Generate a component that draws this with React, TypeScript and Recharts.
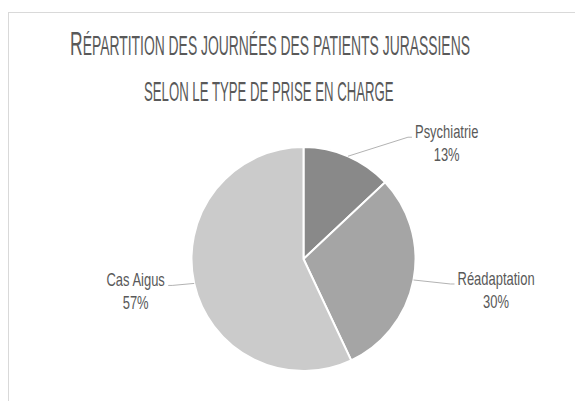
import React from "react";
import { PieChart, Pie, Cell } from "recharts";

// ---- data ----
const categories = ["Psychiatrie", "Réadaptation", "Cas Aigus"];
const values = [13, 30, 57];
const titleLine1First = "R";
const titleLine1Rest = "ÉPARTITION DES JOURNÉES DES PATIENTS JURASSIENS";
const titleLine2 = "SELON LE TYPE DE PRISE EN CHARGE";

// ---- styles ----
const COLORS = ["#898989", "#a5a5a5", "#cbcbcb"];
const LABEL_OFFSETS: [number, number][] = [
  [64, -19],
  [41, 4],
  [-26, 2],
];
const FONT = '"Liberation Sans", Arial, sans-serif';
const TEXT_COLOR = "#595959";
const LABEL_SIZE = 18;
const SCALE_X = 0.72;
const GAP = 3;
const TITLE_BIG = 34;
const TITLE_SMALL = 27;

const data = categories.map((name, i) => ({ name, value: values[i] }));

let ctx: CanvasRenderingContext2D | null = null;
function measure(s: string, size: number): number {
  if (!ctx) ctx = document.createElement("canvas").getContext("2d");
  if (!ctx) return s.length * size * 0.6;
  ctx.font = `${size}px "Liberation Sans", Arial, sans-serif`;
  return ctx.measureText(s).width;
}
function textWidth(s: string): number {
  return measure(s, LABEL_SIZE) * SCALE_X;
}

const RAD = Math.PI / 180;
const renderLabel = (props: any) => {
  const { cx, cy, midAngle, outerRadius, index, name, percent } = props;
  const sx = cx + outerRadius * Math.cos(-midAngle * RAD);
  const sy = cy + outerRadius * Math.sin(-midAngle * RAD);
  const [ox, oy] = LABEL_OFFSETS[index];
  const ex = sx + ox;
  const ey = sy + oy;
  const right = ox > 0;
  const l1 = String(name);
  const l2 = `${Math.round(percent * 100)}%`;
  const w = Math.max(textWidth(l1), textWidth(l2));
  const tcx = right ? ex + GAP + w / 2 : ex - GAP - w / 2;
  const kx = ex - (right ? 4 : -4);
  return (
    <g key={`lbl-${index}`}>
      <polyline
        points={`${sx},${sy} ${kx},${ey} ${ex},${ey}`}
        fill="none"
        stroke="#b3b3b3"
        strokeWidth={1}
      />
      <g transform={`translate(${tcx},${ey + 1}) scale(${SCALE_X},1)`}>
        <text x={0} y={0} textAnchor="middle" fontFamily={FONT} fontSize={LABEL_SIZE} fill={TEXT_COLOR}>
          {l1}
        </text>
        <text x={0} y={23} textAnchor="middle" fontFamily={FONT} fontSize={LABEL_SIZE} fill={TEXT_COLOR}>
          {l2}
        </text>
      </g>
    </g>
  );
};

function Title() {
  const w1a = measure(titleLine1First, TITLE_BIG);
  const w1b = measure(titleLine1Rest, TITLE_SMALL);
  const s1 = 400 / (w1a + w1b);
  const w2 = measure(titleLine2, TITLE_SMALL);
  const s2 = 250 / w2;
  return (
    <svg width={575} height={393} style={{ position: "absolute", left: 0, top: 0 }}>
      <g transform={`translate(62,47) scale(${s1},1)`}>
        <text x={0} y={0} fontFamily={FONT} fontSize={TITLE_BIG} fill={TEXT_COLOR}>
          {titleLine1First}
        </text>
        <text x={w1a} y={0} fontFamily={FONT} fontSize={TITLE_SMALL} fill={TEXT_COLOR}>
          {titleLine1Rest}
        </text>
      </g>
      <g transform={`translate(136,93) scale(${s2},1)`}>
        <text x={0} y={0} fontFamily={FONT} fontSize={TITLE_SMALL} fill={TEXT_COLOR}>
          {titleLine2}
        </text>
      </g>
    </svg>
  );
}

export default function App() {
  return (
    <div style={{ position: "relative", width: 575, height: 393, overflow: "hidden" }}>
      <div
        style={{
          position: "absolute",
          left: 0,
          top: 4,
          width: 700,
          height: 500,
          border: "1px solid #d9d9d9",
          boxSizing: "border-box",
        }}
      />
      <Title />
      <div style={{ position: "absolute", left: 0, top: 0 }}>
        <PieChart width={575} height={393} margin={{ top: 0, right: 0, bottom: 0, left: 0 }}>
          <Pie
            data={data}
            dataKey="value"
            nameKey="name"
            cx={295.5}
            cy={251}
            outerRadius={112}
            startAngle={90}
            endAngle={-270}
            stroke="#ffffff"
            strokeWidth={2}
            label={renderLabel}
            labelLine={false}
            isAnimationActive={false}
          >
            {data.map((d, i) => (
              <Cell key={d.name} fill={COLORS[i]} />
            ))}
          </Pie>
        </PieChart>
      </div>
    </div>
  );
}
